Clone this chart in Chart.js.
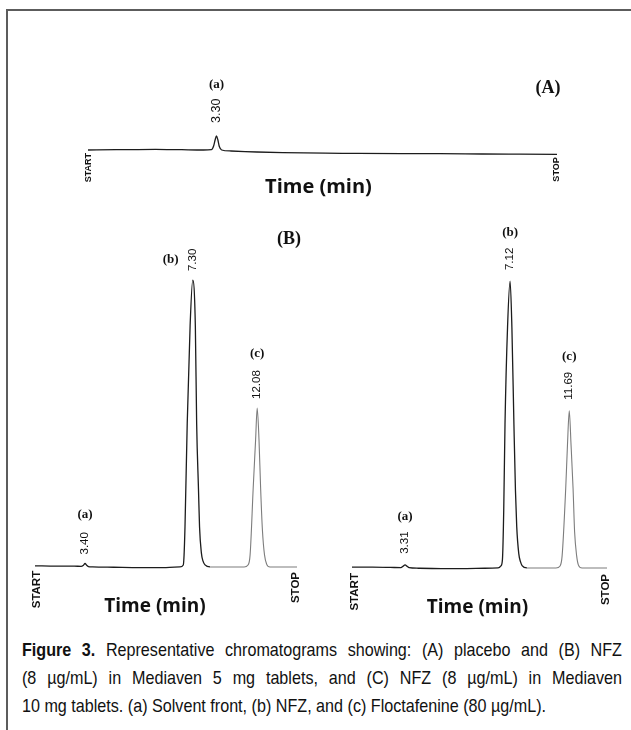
<!DOCTYPE html>
<html>
<head>
<meta charset="utf-8">
<script src="https://cdn.jsdelivr.net/npm/chart.js@4.4.1/dist/chart.umd.min.js"></script>
<style>
  html, body { margin: 0; padding: 0; background: #fff; }
  #page { position: relative; width: 631px; height: 730px; overflow: hidden; background: #fff; }
  #frame { position: absolute; left: 6px; top: 9px; right: 0; bottom: 0; border-top: 2px solid #5c5c5c; border-left: 2px solid #5c5c5c; }
  canvas { position: absolute; }
  #caption { position: absolute; left: 22px; top: 636px; transform-origin: 0 0; color: #111;
    font: 19px "Liberation Sans Narrow", "Liberation Sans", sans-serif; line-height: 28px; white-space: nowrap; }
  #caption .just { text-align: justify; text-align-last: justify; }
</style>
</head>
<body>
<div id="page">
  <div id="frame"></div>
  <canvas id="chart-a" width="631" height="220" style="left:0;top:0"></canvas>
  <canvas id="chart-b" width="320" height="415" style="left:0;top:220px"></canvas>
  <canvas id="chart-c" width="311" height="415" style="left:320px;top:220px"></canvas>
  <div id="caption">
    <div class="ln"><b>Figure 3.</b> Representative chromatograms showing: (A) placebo and (B) NFZ</div>
    <div class="ln">(8 µg/mL) in Mediaven 5 mg tablets, and (C) NFZ (8 µg/mL) in Mediaven</div>
    <div><span id="lastText">10 mg tablets. (a) Solvent front, (b) NFZ, and (c) Floctafenine (80 µg/mL).</span></div>
  </div>
</div>
<script>
// run position (% of START..STOP) and detector signal
const posA = [0, 6, 14.4, 20, 24.6, 26.3, 26.8, 27.1, 27.4, 27.7, 28.0, 28.5, 30.5, 36, 41.5, 54.2, 66.9, 75, 84.0, 92, 100];
const sigA = [0, 0.1, 0.25, 0.1, 0, 0.1, 1.5, 3.5, 4.9, 3.5, 1.2, 0, -0.35, -0.7, -0.95, -1.15, -1.3, -1.3, -1.4, -1.45, -1.5];

const posB = [0, 8, 15, 17.6, 18.5, 19.1, 19.7, 20.4, 22, 30, 40, 50,
  55.3, 56.6, 56.9, 57.25, 58.1, 59.2, 60.2, 61.2, 61.7, 62.4, 62.8, 63.5, 64.1, 64.9, 66.8,
  72, 79.8, 81.3, 82.1, 83.3, 84.2, 84.8, 85.5, 86.1, 86.8, 87.6, 88.4, 89.7, 95, 100];
const sigB = [0.4, 0.3, 0.3, 0.2, 0.6, 1.2, 0.6, 0.15, 0, -0.1, -0.2, -0.2,
  0, 0.7, 4.2, 14, 50, 84, 100, 84, 50, 27, 14, 4.9, 2.1, 0.7, 0,
  0, 0, 0.7, 4.2, 27.9, 44.3, 55.4, 44.3, 27.9, 12.9, 4.2, 1.0, 0, 0, 0];

const posC = [0, 8, 15, 19.2, 20.0, 20.8, 21.6, 22.4, 26, 35, 45, 52,
  57.3, 58.4, 59.0, 59.5, 60.0, 61.0, 62.0, 62.7, 63.5, 64.1, 64.6, 65.4, 66.1, 66.7, 68.6,
  74, 80.0, 81.6, 82.4, 83.8, 84.5, 85.2, 85.9, 86.7, 87.3, 88.1, 88.8, 90.2, 95, 100];
const sigC = [0.3, 0.3, 0.2, 0.1, 0.6, 1.1, 0.6, 0.1, -0.1, -0.2, -0.2, -0.1,
  0, 0.7, 3.0, 20, 50, 84, 100, 84, 50, 27, 14.4, 5, 2.1, 0.8, 0,
  0, 0, 0.7, 4.2, 27.5, 42.9, 54.8, 42.9, 27.5, 12.5, 4.2, 1.0, 0, 0, 0];

// peaks: tag, retention time label, apex position
const tagsA = ['(a)'];
const rtA = ['3.30'];
const apexA = [27.4];
const tagsB = ['(a)', '(b)', '(c)'];
const rtB = ['3.40', '7.30', '12.08'];
const apexB = [19.1, 60.2, 84.8];
const tagsC = ['(a)', '(b)', '(c)'];
const rtC = ['3.31', '7.12', '11.69'];
const apexC = [20.8, 62.0, 85.2];

const INK = '#1c1c1c';
const GREY = '#7d7d7d';

const chromLabels = {
  id: 'chromLabels',
  afterDatasetsDraw(chart, args, o) {
    const { ctx, chartArea: ca, scales: { x, y } } = chart;
    const pts = chart.data.datasets[0].data;
    ctx.save();
    ctx.fillStyle = '#111';

    o.peaks.forEach(p => {
      const pt = pts.find(d => d.x === p.x);
      const px = x.getPixelForValue(p.x);
      const py = y.getPixelForValue(pt.y);
      ctx.font = o.rtFont;
      const w = ctx.measureText(p.rt).width;
      ctx.save();
      ctx.translate(px, py - o.gap);
      ctx.rotate(-Math.PI / 2);
      ctx.textAlign = 'left';
      ctx.textBaseline = 'middle';
      ctx.fillText(p.rt, 0, 0);
      ctx.restore();
      ctx.font = o.tagFont;
      ctx.textAlign = 'center';
      ctx.textBaseline = 'middle';
      if (p.side === 'left') ctx.fillText(p.tag, px - 22, py - o.gap - w / 2);
      else ctx.fillText(p.tag, px, py - o.gap - w - o.tagGap);
    });

    // START / STOP marks
    ctx.font = o.endFont;
    const ends = [
      { t: 'START', px: ca.left + o.startDx, v: pts[0].y },
      { t: 'STOP', px: ca.right + o.stopDx, v: pts[pts.length - 1].y }
    ];
    ends.forEach(e => {
      ctx.save();
      ctx.translate(e.px, y.getPixelForValue(e.v) + o.endGap);
      ctx.rotate(-Math.PI / 2);
      ctx.textAlign = 'right';
      ctx.textBaseline = 'middle';
      ctx.fillText(e.t, 0, 0);
      ctx.restore();
    });

    // axis title
    ctx.font = o.titleFont;
    ctx.textAlign = 'center';
    ctx.textBaseline = 'middle';
    ctx.fillText('Time (min)', (ca.left + ca.right) / 2 + o.titleDx, y.getPixelForValue(0) + o.titleDy);

    // panel letter
    ctx.font = '700 18px "Liberation Serif", serif';
    ctx.fillText(o.panel.text, o.panel.x, o.panel.y);
    ctx.restore();
  }
};

function makeTrace(id, pos, sig, yMin, yMax, pad, greyFrom, labels) {
  const el = document.getElementById(id);
  return new Chart(el.getContext('2d'), {
    type: 'line',
    plugins: [chromLabels],
    data: {
      datasets: [{
        data: pos.map((x, i) => ({ x: x, y: sig[i] })),
        borderColor: INK,
        borderWidth: 1.3,
        pointRadius: 0,
        fill: false,
        cubicInterpolationMode: 'monotone',
        segment: {
          borderColor: c => (c.p0.parsed.x >= greyFrom ? GREY : INK),
          borderWidth: c => (c.p0.parsed.x >= greyFrom ? 1.1 : 1.3)
        }
      }]
    },
    options: {
      responsive: false,
      animation: false,
      layout: { padding: pad },
      plugins: { legend: { display: false }, tooltip: { enabled: false }, chromLabels: labels },
      scales: {
        x: { type: 'linear', min: 0, max: 100, display: false },
        y: { min: yMin, max: yMax, display: false }
      }
    }
  });
}

makeTrace('chart-a', posA, sigA, -7, 14, { left: 88, right: 74, top: 110, bottom: 50 }, 999, {
  peaks: tagsA.map((t, i) => ({ tag: t, rt: rtA[i], x: apexA[i] })),
  rtFont: '12.5px "Liberation Sans", Arial, sans-serif',
  tagFont: '700 13px "Liberation Serif", serif',
  gap: 13, tagGap: 14,
  endFont: '700 9px "Liberation Sans", Arial, sans-serif', endGap: 3, startDx: 1, stopDx: 0,
  titleFont: '700 20px "Open Sans", sans-serif', titleDx: -4, titleDy: 37,
  panel: { text: '(A)', x: 548, y: 88 }
});

makeTrace('chart-b', posB, sigB, -3.5, 103.5, { left: 35, right: 23, top: 50, bottom: 58 }, 66, {
  peaks: tagsB.map((t, i) => ({ tag: t, rt: rtB[i], x: apexB[i], side: i === 1 ? 'left' : 'top' })),
  rtFont: '11.5px "Liberation Sans", Arial, sans-serif',
  tagFont: '700 13px "Liberation Serif", serif',
  gap: 9, tagGap: 17,
  endFont: '700 11.5px "Liberation Sans", Arial, sans-serif', endGap: 5, startDx: 2, stopDx: -1,
  titleFont: '700 19px "Open Sans", sans-serif', titleDx: -11, titleDy: 40,
  panel: { text: '(B)', x: 289, y: 19 }
});

makeTrace('chart-c', posC, sigC, -3.5, 103.5, { left: 32, right: 24, top: 51, bottom: 57 }, 68, {
  peaks: tagsC.map((t, i) => ({ tag: t, rt: rtC[i], x: apexC[i] })),
  rtFont: '11.5px "Liberation Sans", Arial, sans-serif',
  tagFont: '700 13px "Liberation Serif", serif',
  gap: 11, tagGap: 15,
  endFont: '700 11.5px "Liberation Sans", Arial, sans-serif', endGap: 6, startDx: 3, stopDx: -1,
  titleFont: '700 19px "Open Sans", sans-serif', titleDx: -2, titleDy: 40,
  panel: { text: '(C)', x: 600, y: 21 }
});

// squeeze the caption to the narrow typeface of the print: last line ends near 545px,
// the two full lines are justified to the 600px measure
function fitCaption() {
  const cap = document.getElementById('caption');
  const w = document.getElementById('lastText').getBoundingClientRect().width;
  const s = 524 / w;
  cap.style.width = (600 / s) + 'px';
  cap.style.transform = 'scaleX(' + s + ')';
  cap.querySelectorAll('.ln').forEach(d => d.classList.add('just'));
}
if (document.fonts && document.fonts.ready) document.fonts.ready.then(fitCaption); else fitCaption();
</script>
</body>
</html>
